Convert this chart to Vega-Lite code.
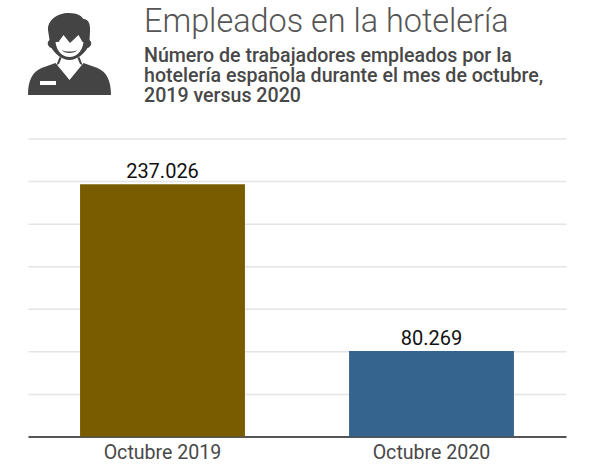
{
  "$schema": "https://vega.github.io/schema/vega-lite/v6.json",
  "width": 538,
  "height": 298,
  "autosize": {"type": "none"},
  "padding": {"left": 28, "top": 138.5, "right": 34, "bottom": 31.5},
  "background": "#ffffff",
  "config": {
    "locale": {"number": {"decimal": ",", "thousands": ".", "grouping": [3], "currency": ["", " €"]}},
    "view": {"stroke": null},
    "font": "Roboto"
  },
  "title": {
    "text": "Empleados en la hotelería",
    "subtitle": [
      "Número de trabajadores empleados por la",
      "hotelería española durante el mes de octubre,",
      "2019 versus 2020"
    ],
    "anchor": "start",
    "frame": "group",
    "dx": 116,
    "offset": -93,
    "font": "Roboto",
    "fontSize": 32.4,
    "fontWeight": 300,
    "color": "#555555",
    "subtitleFont": "Roboto",
    "subtitleFontSize": 19.6,
    "subtitleFontWeight": 500,
    "subtitleColor": "#484848",
    "subtitleLineHeight": 20,
    "subtitlePadding": 9
  },
  "data": {
    "values": [
      {"mes": "Octubre 2019", "empleados": 237026},
      {"mes": "Octubre 2020", "empleados": 80269}
    ]
  },
  "layer": [
    {
      "mark": {"type": "bar"},
      "encoding": {
        "x": {
          "field": "mes",
          "type": "nominal",
          "title": null,
          "scale": {"paddingInner": 0.387, "paddingOuter": 0.1935},
          "axis": {
            "labelAngle": 0,
            "labelFont": "Roboto",
            "labelFontSize": 19.6,
            "labelColor": "#484848",
            "labelPadding": 7,
            "ticks": false,
            "domainColor": "#555555",
            "domainWidth": 2
          }
        },
        "y": {
          "field": "empleados",
          "type": "quantitative",
          "title": null,
          "scale": {"domain": [0, 280000]},
          "axis": {
            "values": [0, 40000, 80000, 120000, 160000, 200000, 240000, 280000],
            "labels": false,
            "ticks": false,
            "tickRound": false,
            "domain": false,
            "grid": true,
            "gridColor": "#e4e4e4",
            "gridWidth": 1.5
          }
        },
        "color": {
          "field": "mes",
          "type": "nominal",
          "legend": null,
          "scale": {"range": ["#7a5c00", "#35648f"]}
        }
      }
    },
    {
      "mark": {"type": "text", "baseline": "bottom", "dy": -2, "font": "Roboto", "fontSize": 20, "color": "#111111"},
      "encoding": {
        "x": {"field": "mes", "type": "nominal"},
        "y": {"field": "empleados", "type": "quantitative"},
        "text": {"field": "empleados", "type": "quantitative", "format": ",d"}
      }
    },
    {
      "data": {"values": [{"icono": "recepcionista"}]},
      "mark": {
        "type": "point",
        "filled": true,
        "opacity": 1,
        "size": 4,
        "color": "#444444",
        "shape": "M-41.5,41C-41.5,26 -37,18 -28,14L-14,9L0,26L14,9L28,14C37,18 41.5,26 41.5,41ZM-29.5,27L-29.5,31L-13.5,31L-13.5,27ZM-1,-41C8,-41 12,-38 14,-35C19,-35 21,-30 20.5,-22L20,-14C23,-12 22,-7 18,-6C15,-1 8,6 0,6C-8,6 -15,-1 -18,-6C-22,-7 -23,-12 -20,-14L-21.5,-24C-22,-34 -12,-41 -1,-41ZM-14,-12C-13,-3 -7,3 0,3C7,3 13,-3 14,-12L13,-12L9,-19L0.5,-11L-6,-19L-11,-12ZM-8,-4C-4,-2 4,-2 8,-4C5,0 -5,0 -8,-4ZM-13,11L-10,3L-8,4L-10.5,10ZM13,11L10,3L8,4L10.5,10Z"
      },
      "encoding": {
        "x": {"value": 41.5},
        "y": {"value": -84.5}
      }
    }
  ]
}
